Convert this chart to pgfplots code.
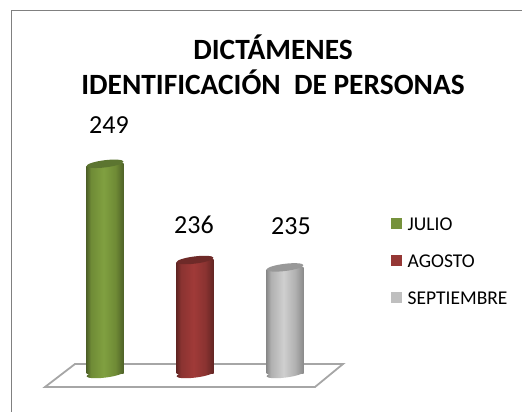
\documentclass[border=0pt]{standalone}
\usepackage{pgfplots}
\pgfplotsset{compat=1.18}
\usepackage{fontspec}
\setmainfont{Carlito}
\definecolor{gD}{HTML}{4F6228}\definecolor{gM}{HTML}{6F8B36}\definecolor{gL}{HTML}{80A040}\definecolor{gT}{HTML}{5C7530}\definecolor{gS}{HTML}{76923C}
\definecolor{rD}{HTML}{632523}\definecolor{rM}{HTML}{8A3331}\definecolor{rL}{HTML}{A03A38}\definecolor{rT}{HTML}{6E2A28}\definecolor{rS}{HTML}{953735}
\definecolor{sD}{HTML}{8A8A8A}\definecolor{sM}{HTML}{B0B0B0}\definecolor{sL}{HTML}{CFCFCF}\definecolor{sT}{HTML}{989898}\definecolor{sS}{HTML}{BFBFBF}
\pgfdeclarehorizontalshading{cylg}{100bp}{color(0bp)=(gD);color(25bp)=(gD);color(31bp)=(gM);color(48bp)=(gL);color(64bp)=(gM);color(75bp)=(gD);color(100bp)=(gD)}
\pgfdeclarehorizontalshading{cylr}{100bp}{color(0bp)=(rD);color(25bp)=(rD);color(31bp)=(rM);color(48bp)=(rL);color(64bp)=(rM);color(75bp)=(rD);color(100bp)=(rD)}
\pgfdeclarehorizontalshading{cyls}{100bp}{color(0bp)=(sD);color(25bp)=(sD);color(31bp)=(sM);color(48bp)=(sL);color(64bp)=(sM);color(75bp)=(sD);color(100bp)=(sD)}
% top of a cylinder: hides the square corner of the bar, then draws the tilted cap
\newcommand\captop[2]{\pgfdeclareplotmark{top#1}{%
  \pgftransformrotate{7}%
  \pgfsetfillcolor{white}\pgfpathrectangle{\pgfpoint{-21pt}{0pt}}{\pgfpoint{21pt}{6pt}}\pgfusepathqfill
  \pgfsetfillcolor{#2}\pgfpathellipse{\pgfpointorigin}{\pgfpoint{18.6pt}{0pt}}{\pgfpoint{0pt}{3.6pt}}\pgfusepathqfill}}
\captop{g}{gT}\captop{r}{rT}\captop{s}{sT}
\newcommand\capbot[1]{\pgfdeclareplotmark{bot#1}{%
  \pgftransformrotate{7}%
  \pgfpathellipse{\pgfpointorigin}{\pgfpoint{18.6pt}{0pt}}{\pgfpoint{0pt}{3.6pt}}\pgfshadepath{cyl#1}{0}\pgfusepath{discard}}}
\capbot{g}\capbot{r}\capbot{s}
\pgfplotsset{swatch/.style={legend image code/.code={\pgfsetfillcolor{#1}\pgfpathrectangle{\pgfpoint{0pt}{-4pt}}{\pgfpoint{11pt}{11pt}}\pgfusepathqfill}}}
\begin{document}
\begin{tikzpicture}[x=1pt,y=1pt]
\path[use as bounding box] (0,0) rectangle (522,412);
\draw[color=black!50,line width=1.6pt] (11.5,0) -- (11.5,401.5) -- (522,401.5);
% floor
\draw[color=black!35,line width=1.8pt,fill=white,line join=miter] (45,25) -- (75,48) -- (343,48) -- (315,25) -- cycle;
\begin{axis}[at={(0pt,38pt)},anchor=south west,scale only axis,width=522pt,height=374pt,
  xmin=0,xmax=522,ymin=220.595,ymax=271.135,hide axis,clip mode=individual,
  /pgf/number format/assume math mode=true,
  legend cell align=left,
  legend style={at={(391pt,158pt)},anchor=north west,draw=none,fill=none,inner sep=0pt,
    row sep=20pt,font=\fontsize{19.5}{21}\selectfont,nodes={inner sep=1.5pt},
    /tikz/column 1/.style={column sep=4pt}},
  every node near coord/.append style={font=\fontsize{26}{30}\selectfont,anchor=base}]
\addplot[forget plot,only marks,mark=botg] coordinates {(105,220.595)};
\addplot[forget plot,only marks,mark=botr] coordinates {(195,220.595)};
\addplot[forget plot,only marks,mark=bots] coordinates {(285,220.595)};
\addplot[ybar,bar width=37pt,bar shift=0pt,draw=none,shading=cylg,shading angle=0,mark=topg,swatch={gS},nodes near coords,
  every node near coord/.append style={xshift=4pt,yshift=30pt}] coordinates {(105,249)};
\addlegendentry{JULIO}
\addplot[ybar,bar width=37pt,bar shift=0pt,draw=none,shading=cylr,shading angle=0,mark=topr,swatch={rS},nodes near coords,
  every node near coord/.append style={xshift=-1pt,yshift=26pt}] coordinates {(195,236)};
\addlegendentry{AGOSTO}
\addplot[ybar,bar width=37pt,bar shift=0pt,draw=none,shading=cyls,shading angle=0,mark=tops,swatch={sS},nodes near coords,
  every node near coord/.append style={xshift=6pt,yshift=33pt}] coordinates {(285,235)};
\addlegendentry{SEPTIEMBRE}
\end{axis}
\node[font=\fontsize{29.4}{33}\selectfont\bfseries,anchor=base] at (273,352) {DICTÁMENES};
\node[font=\fontsize{29.4}{33}\selectfont\bfseries,anchor=base] at (273,317) {IDENTIFICACIÓN\ \ DE PERSONAS};
\end{tikzpicture}
\end{document}
